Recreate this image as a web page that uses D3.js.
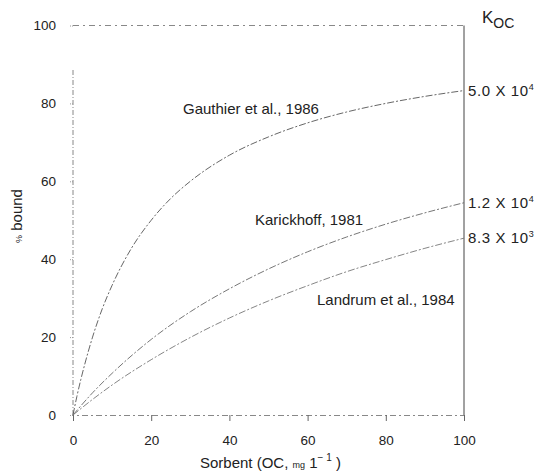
<!DOCTYPE html>
<html><head><meta charset="utf-8">
<script src="https://cdn.jsdelivr.net/npm/d3@7"></script>
<style>body{margin:0;background:#fff}svg{display:block}text{font-family:"Liberation Sans",Arial,sans-serif;fill:#222}</style>
</head><body><svg id="c" width="537" height="473"></svg>
<script>
const xTicks = [0, 20, 40, 60, 80, 100];
const yTicks = [0, 20, 40, 60, 80, 100];
const gauthierX = [0, 1, 2, 3, 5, 7.5, 10, 15, 20, 25, 30, 40, 50, 60, 70, 80, 90, 100];
const gauthierY = [0, 4.8, 9.1, 13.0, 20.0, 27.3, 33.3, 42.9, 50.0, 55.6, 60.0, 66.7, 71.4, 75.0, 77.8, 80.0, 81.8, 83.3];
const karickhoffX = [0, 5, 10, 20, 30, 40, 50, 60, 70, 80, 90, 100];
const karickhoffY = [0, 5.7, 10.7, 19.4, 26.5, 32.4, 37.5, 41.9, 45.7, 49.0, 51.9, 54.5];
const landrumX = [0, 5, 10, 20, 30, 40, 50, 60, 70, 80, 90, 100];
const landrumY = [0, 4.0, 7.7, 14.2, 19.9, 24.9, 29.3, 33.2, 36.8, 39.9, 42.8, 45.4];
const curveNames = ["Gauthier et al., 1986", "Karickhoff, 1981", "Landrum et al., 1984"];
const kocMantissa = ["5.0 X 10", "1.2 X 10", "8.3 X 10"];
const kocExp = ["4", "4", "3"];

const svg = d3.select("#c");
const x = d3.scaleLinear().domain([0, 100]).range([73, 464]);
const y = d3.scaleLinear().domain([0, 100]).range([415, 25.5]);
const FONT = "Liberation Sans, Arial, sans-serif";

// frame lines
svg.append("line").attr("x1", x(0)).attr("x2", x(100)).attr("y1", y(100)).attr("y2", y(100))
  .attr("stroke", "#888").attr("stroke-width", 1).attr("stroke-dasharray", "6,4,2,4");
svg.append("line").attr("x1", x(100)).attr("x2", x(100)).attr("y1", y(100)).attr("y2", y(0))
  .attr("stroke", "#444").attr("stroke-width", 1);

// bottom axis
const gx = svg.append("g").attr("transform", `translate(0,${y(0)})`)
  .call(d3.axisBottom(x).tickValues(xTicks).tickSize(6).tickPadding(14).tickFormat(d3.format("d")));
gx.select(".domain").attr("stroke", "#888").attr("stroke-dasharray", "6,3,2,3");
gx.selectAll(".tick line").attr("stroke", "#666");
gx.selectAll(".tick text").attr("font-size", 13.5).attr("font-family", FONT).attr("fill", "#222");

// left axis
const gy = svg.append("g").attr("transform", `translate(${x(0)},0)`)
  .call(d3.axisLeft(y).tickValues(yTicks).tickSize(4).tickPadding(13).tickFormat(d3.format("d")));
gy.select(".domain").attr("d", `M0,${y(0)}V${y(89)}`).attr("stroke", "#888").attr("stroke-dasharray", "5,2,1,2");
gy.selectAll(".tick line").attr("stroke", "#999").attr("stroke-dasharray", "1,1");
gy.selectAll(".tick text").attr("font-size", 13.5).attr("font-family", FONT).attr("fill", "#222");

// curves
const line = d3.line().x(d => x(d[0])).y(d => y(d[1])).curve(d3.curveMonotoneX);
const series = [
  {xs: gauthierX, ys: gauthierY, c: "#555"},
  {xs: karickhoffX, ys: karickhoffY, c: "#666"},
  {xs: landrumX, ys: landrumY, c: "#777"}
];
series.forEach(s => {
  svg.append("path").datum(s.xs.map((v, i) => [v, s.ys[i]]))
    .attr("d", line).attr("fill", "none").attr("stroke", s.c)
    .attr("stroke-width", 0.9).attr("stroke-dasharray", "7,2,2,2");
});

// curve labels
const labelPos = [[183, 114], [255, 225], [317, 305]];
curveNames.forEach((t, i) => {
  svg.append("text").attr("x", labelPos[i][0]).attr("y", labelPos[i][1]).attr("font-size", 15).text(t);
});

// Koc labels at right
const kocY = [gauthierY[gauthierY.length - 1], karickhoffY[karickhoffY.length - 1], landrumY[landrumY.length - 1]];
kocMantissa.forEach((m, i) => {
  const t = svg.append("text").attr("x", x(100) + 4).attr("y", y(kocY[i]) + 5).attr("font-size", 15)
    .attr("letter-spacing", 0.6);
  t.append("tspan").text(m);
  t.append("tspan").attr("dy", -6).attr("font-size", 9).text(kocExp[i]);
});
const kt = svg.append("text").attr("x", 482).attr("y", 23).attr("font-size", 17);
kt.append("tspan").text("K");
kt.append("tspan").attr("dy", 5).attr("font-size", 14).text("OC");

// axis titles
const yt = svg.append("text").attr("transform", `translate(22,216) rotate(-90)`)
  .attr("text-anchor", "middle").attr("font-size", 15);
yt.append("tspan").attr("font-size", 9).text("%");
yt.append("tspan").text(" bound");
const xt = svg.append("text").attr("x", 200).attr("y", 468).attr("font-size", 15);
xt.append("tspan").text("Sorbent (OC, ");
xt.append("tspan").attr("font-size", 9).text("mg");
xt.append("tspan").text("  1");
xt.append("tspan").attr("dy", -7).attr("font-size", 10).text("− 1");
xt.append("tspan").attr("dy", 7).text(" )");
</script></body></html>
